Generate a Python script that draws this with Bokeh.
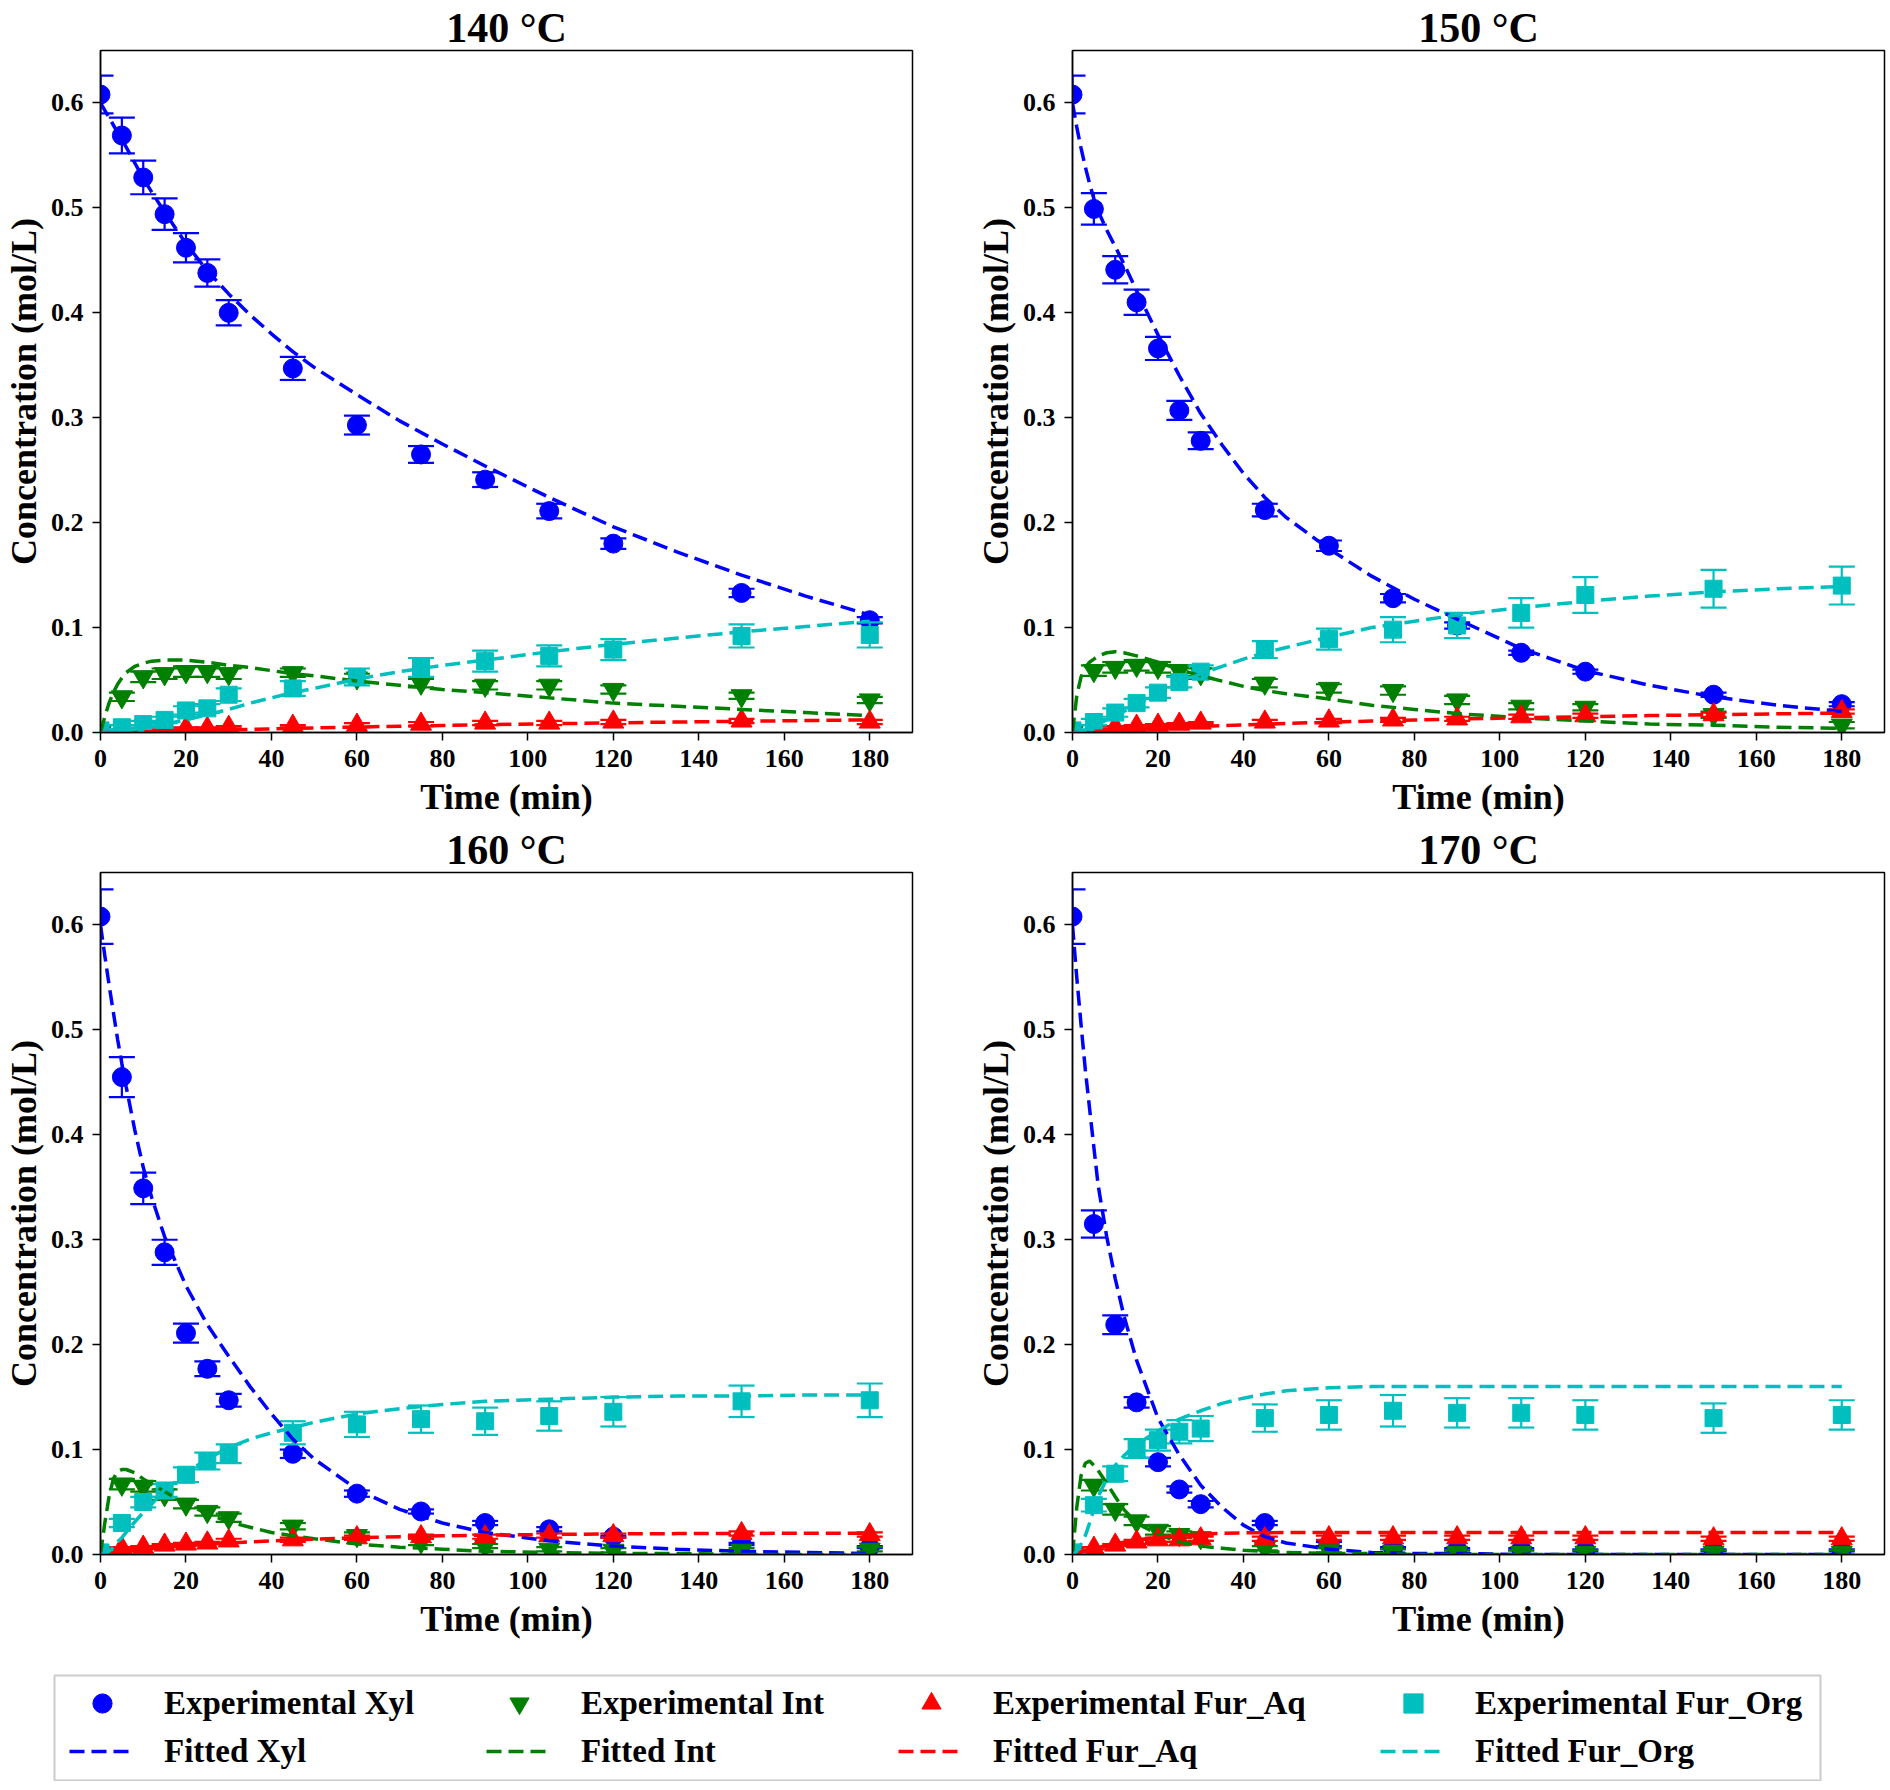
from bokeh.plotting import figure
from bokeh.models import Range1d, FixedTicker, PrintfTickFormatter, Legend, LegendItem
from bokeh.layouts import column, row
from bokeh.embed import file_html
from bokeh.resources import INLINE

FONT = "Liberation Serif"
C_XYL = "#0000FF"
C_INT = "#008000"
C_AQ = "#FF0000"
C_ORG = "#00BFBF"

# ---------------- data ----------------
titles = ["140 \u00b0C", "150 \u00b0C", "160 \u00b0C", "170 \u00b0C"]
x_ticks = [0, 20, 40, 60, 80, 100, 120, 140, 160, 180]
y_ticks = [0.0, 0.1, 0.2, 0.3, 0.4, 0.5, 0.6]

t_exp = [0, 5, 10, 15, 20, 25, 30, 45, 60, 75, 90, 105, 120, 150, 180]
t_fit = [0, 1, 2, 3, 4, 5, 6, 8, 10, 12, 15, 20, 25, 30, 35, 40, 45, 50, 60, 70, 80, 90, 105, 120, 135, 150, 165, 180]

# 140 C
xyl_140 = [0.608, 0.569, 0.529, 0.494, 0.462, 0.438, 0.400, 0.347, 0.293, 0.265, 0.241, 0.211, 0.180, 0.133, 0.107]
xyl_140_err = [0.018, 0.017, 0.016, 0.015, 0.014, 0.013, 0.012, 0.011, 0.009, 0.008, 0.007, 0.007, 0.005, 0.004, 0.003]
int_140 = [0.000, 0.034, 0.053, 0.056, 0.058, 0.058, 0.056, 0.057, 0.052, 0.047, 0.045, 0.045, 0.041, 0.035, 0.031]
int_140_err = [0.000, 0.004, 0.005, 0.005, 0.005, 0.005, 0.005, 0.004, 0.004, 0.004, 0.004, 0.004, 0.004, 0.003, 0.003]
aq_140 = [0.000, 0.000, 0.001, 0.002, 0.004, 0.004, 0.005, 0.006, 0.007, 0.008, 0.009, 0.009, 0.010, 0.011, 0.010]
aq_140_err = [0.000, 0.001, 0.001, 0.001, 0.001, 0.001, 0.001, 0.001, 0.002, 0.002, 0.002, 0.002, 0.002, 0.002, 0.002]
org_140 = [0.002, 0.005, 0.008, 0.012, 0.021, 0.023, 0.036, 0.042, 0.053, 0.062, 0.068, 0.073, 0.079, 0.092, 0.093]
org_140_err = [0.001, 0.002, 0.003, 0.003, 0.004, 0.004, 0.006, 0.007, 0.008, 0.009, 0.010, 0.010, 0.010, 0.011, 0.012]
fit_xyl_140 = [0.600, 0.593, 0.586, 0.579, 0.572, 0.565, 0.558, 0.543, 0.528, 0.515, 0.496, 0.466, 0.440, 0.418, 0.398, 0.380, 0.363, 0.348, 0.322, 0.297, 0.275, 0.254, 0.224, 0.196, 0.172, 0.150, 0.130, 0.112]
fit_int_140 = [0.000, 0.015, 0.028, 0.038, 0.046, 0.052, 0.057, 0.063, 0.066, 0.068, 0.069, 0.069, 0.067, 0.064, 0.062, 0.059, 0.056, 0.054, 0.049, 0.045, 0.041, 0.038, 0.033, 0.028, 0.025, 0.022, 0.019, 0.016]
fit_aq_140 = [0.0000, 0.0001, 0.0001, 0.0002, 0.0002, 0.0003, 0.0004, 0.0005, 0.0007, 0.0008, 0.0011, 0.0015, 0.0020, 0.0025, 0.0030, 0.0035, 0.0040, 0.0044, 0.0052, 0.0060, 0.0067, 0.0074, 0.0083, 0.0092, 0.0100, 0.0107, 0.0114, 0.0120]
fit_org_140 = [0.000, 0.000, 0.000, 0.001, 0.001, 0.001, 0.002, 0.003, 0.004, 0.006, 0.008, 0.012, 0.017, 0.022, 0.028, 0.033, 0.038, 0.042, 0.051, 0.058, 0.064, 0.069, 0.077, 0.084, 0.090, 0.096, 0.101, 0.106]

# 150 C
xyl_150 = [0.608, 0.499, 0.441, 0.410, 0.366, 0.307, 0.278, 0.212, 0.178, 0.128, 0.102, 0.076, 0.058, 0.036, 0.027]
xyl_150_err = [0.018, 0.015, 0.013, 0.012, 0.011, 0.009, 0.008, 0.006, 0.005, 0.004, 0.003, 0.002, 0.002, 0.002, 0.002]
int_150 = [0.000, 0.059, 0.062, 0.064, 0.062, 0.059, 0.056, 0.047, 0.042, 0.040, 0.031, 0.025, 0.024, 0.017, 0.007]
int_150_err = [0.000, 0.005, 0.005, 0.005, 0.005, 0.005, 0.005, 0.004, 0.004, 0.004, 0.004, 0.003, 0.003, 0.003, 0.003]
aq_150 = [0.000, 0.001, 0.005, 0.006, 0.007, 0.008, 0.009, 0.010, 0.011, 0.012, 0.013, 0.015, 0.016, 0.017, 0.020]
aq_150_err = [0.000, 0.001, 0.001, 0.001, 0.001, 0.001, 0.001, 0.002, 0.002, 0.002, 0.002, 0.002, 0.002, 0.002, 0.002]
org_150 = [0.002, 0.010, 0.019, 0.028, 0.038, 0.048, 0.058, 0.079, 0.089, 0.098, 0.102, 0.114, 0.131, 0.137, 0.140]
org_150_err = [0.001, 0.003, 0.004, 0.004, 0.005, 0.005, 0.006, 0.008, 0.010, 0.012, 0.012, 0.014, 0.017, 0.018, 0.018]
fit_xyl_150 = [0.600, 0.577, 0.557, 0.539, 0.523, 0.509, 0.497, 0.479, 0.463, 0.447, 0.421, 0.379, 0.340, 0.304, 0.274, 0.247, 0.224, 0.205, 0.175, 0.149, 0.127, 0.108, 0.080, 0.059, 0.045, 0.034, 0.026, 0.020]
fit_int_150 = [0.000, 0.035, 0.053, 0.062, 0.067, 0.070, 0.073, 0.076, 0.077, 0.076, 0.073, 0.067, 0.060, 0.054, 0.049, 0.044, 0.040, 0.037, 0.032, 0.026, 0.022, 0.018, 0.014, 0.011, 0.008, 0.007, 0.005, 0.004]
fit_aq_150 = [0.0000, 0.0001, 0.0003, 0.0005, 0.0007, 0.0009, 0.0011, 0.0015, 0.0019, 0.0023, 0.0029, 0.0039, 0.0048, 0.0057, 0.0065, 0.0072, 0.0079, 0.0086, 0.0098, 0.0109, 0.0119, 0.0128, 0.0140, 0.0151, 0.0161, 0.0170, 0.0178, 0.0185]
fit_org_150 = [0.000, 0.000, 0.001, 0.002, 0.004, 0.006, 0.008, 0.012, 0.016, 0.020, 0.027, 0.037, 0.047, 0.056, 0.063, 0.070, 0.076, 0.081, 0.091, 0.100, 0.106, 0.112, 0.119, 0.125, 0.130, 0.134, 0.137, 0.139]

# 160 C
xyl_160 = [0.608, 0.455, 0.349, 0.288, 0.211, 0.177, 0.147, 0.096, 0.058, 0.041, 0.030, 0.024, 0.017, 0.010, 0.007]
xyl_160_err = [0.026, 0.019, 0.015, 0.012, 0.009, 0.007, 0.006, 0.004, 0.003, 0.002, 0.002, 0.002, 0.001, 0.001, 0.001]
int_160 = [0.000, 0.067, 0.065, 0.057, 0.048, 0.041, 0.035, 0.027, 0.018, 0.012, 0.008, 0.005, 0.004, 0.004, 0.005]
int_160_err = [0.000, 0.005, 0.005, 0.005, 0.004, 0.004, 0.004, 0.003, 0.003, 0.003, 0.002, 0.002, 0.002, 0.002, 0.002]
aq_160 = [0.000, 0.006, 0.007, 0.009, 0.010, 0.011, 0.013, 0.014, 0.016, 0.017, 0.017, 0.018, 0.018, 0.020, 0.019]
aq_160_err = [0.000, 0.001, 0.001, 0.001, 0.001, 0.001, 0.002, 0.002, 0.002, 0.002, 0.002, 0.002, 0.002, 0.002, 0.002]
org_160 = [0.002, 0.030, 0.050, 0.061, 0.076, 0.089, 0.096, 0.116, 0.124, 0.129, 0.127, 0.132, 0.136, 0.146, 0.147]
org_160_err = [0.001, 0.004, 0.005, 0.006, 0.007, 0.008, 0.009, 0.011, 0.012, 0.013, 0.013, 0.014, 0.014, 0.015, 0.016]
fit_xyl_160 = [0.600, 0.571, 0.543, 0.517, 0.491, 0.468, 0.446, 0.405, 0.369, 0.340, 0.303, 0.256, 0.219, 0.189, 0.160, 0.134, 0.110, 0.091, 0.062, 0.043, 0.030, 0.021, 0.013, 0.008, 0.005, 0.003, 0.002, 0.001]
fit_int_160 = [0.000, 0.030, 0.055, 0.072, 0.079, 0.081, 0.081, 0.078, 0.072, 0.067, 0.060, 0.048, 0.039, 0.031, 0.026, 0.021, 0.018, 0.015, 0.010, 0.007, 0.005, 0.003, 0.002, 0.001, 0.001, 0.000, 0.000, 0.000]
fit_aq_160 = [0.0000, 0.0006, 0.0012, 0.0017, 0.0022, 0.0027, 0.0031, 0.0040, 0.0048, 0.0056, 0.0067, 0.0083, 0.0097, 0.0109, 0.0120, 0.0130, 0.0139, 0.0147, 0.0160, 0.0170, 0.0178, 0.0184, 0.0191, 0.0196, 0.0199, 0.0201, 0.0202, 0.0203]
fit_org_160 = [0.000, 0.001, 0.003, 0.007, 0.012, 0.016, 0.021, 0.031, 0.040, 0.048, 0.062, 0.078, 0.091, 0.102, 0.110, 0.116, 0.121, 0.126, 0.134, 0.139, 0.143, 0.146, 0.148, 0.150, 0.151, 0.151, 0.152, 0.152]

# 170 C
xyl_170 = [0.608, 0.315, 0.219, 0.145, 0.088, 0.062, 0.048, 0.030, 0.010, 0.006, 0.005, 0.005, 0.004, 0.004, 0.004]
xyl_170_err = [0.026, 0.013, 0.009, 0.005, 0.004, 0.003, 0.003, 0.002, 0.002, 0.001, 0.001, 0.001, 0.001, 0.001, 0.001]
int_170 = [0.000, 0.066, 0.043, 0.032, 0.023, 0.019, 0.016, 0.006, 0.004, 0.003, 0.002, 0.002, 0.002, 0.002, 0.002]
int_170_err = [0.000, 0.005, 0.005, 0.004, 0.004, 0.003, 0.003, 0.002, 0.002, 0.002, 0.002, 0.002, 0.002, 0.002, 0.002]
aq_170 = [0.000, 0.006, 0.009, 0.012, 0.014, 0.014, 0.015, 0.015, 0.016, 0.016, 0.016, 0.016, 0.016, 0.015, 0.015]
aq_170_err = [0.000, 0.001, 0.001, 0.002, 0.002, 0.002, 0.002, 0.002, 0.002, 0.002, 0.002, 0.002, 0.002, 0.002, 0.002]
org_170 = [0.002, 0.047, 0.077, 0.101, 0.109, 0.117, 0.120, 0.130, 0.133, 0.137, 0.135, 0.135, 0.133, 0.130, 0.133]
org_170_err = [0.001, 0.006, 0.007, 0.009, 0.010, 0.011, 0.012, 0.013, 0.014, 0.015, 0.014, 0.014, 0.014, 0.014, 0.014]
fit_xyl_170 = [0.600, 0.550, 0.505, 0.462, 0.425, 0.388, 0.352, 0.303, 0.263, 0.228, 0.185, 0.130, 0.095, 0.066, 0.045, 0.028, 0.017, 0.011, 0.005, 0.002, 0.001, 0.001, 0.000, 0.000, 0.000, 0.000, 0.000, 0.000]
fit_int_170 = [0.000, 0.045, 0.075, 0.087, 0.089, 0.085, 0.080, 0.068, 0.055, 0.043, 0.030, 0.019, 0.012, 0.008, 0.006, 0.004, 0.003, 0.002, 0.001, 0.001, 0.000, 0.000, 0.000, 0.000, 0.000, 0.000, 0.000, 0.000]
fit_aq_170 = [0.0000, 0.0012, 0.0024, 0.0035, 0.0046, 0.0056, 0.0066, 0.0085, 0.0102, 0.0118, 0.0138, 0.0164, 0.0183, 0.0195, 0.0202, 0.0206, 0.0208, 0.0209, 0.0210, 0.0210, 0.0210, 0.0210, 0.0210, 0.0210, 0.0210, 0.0210, 0.0210, 0.0210]
fit_org_170 = [0.000, 0.003, 0.010, 0.018, 0.030, 0.043, 0.055, 0.072, 0.085, 0.094, 0.105, 0.118, 0.129, 0.137, 0.144, 0.149, 0.153, 0.156, 0.159, 0.160, 0.160, 0.160, 0.160, 0.160, 0.160, 0.160, 0.160, 0.160]

species = ["Xyl", "Int", "Fur_Aq", "Fur_Org"]
colors = [C_XYL, C_INT, C_AQ, C_ORG]
markers = ["circle", "inverted_triangle", "triangle", "square"]
msizes = [19, 21, 21, 17]

panels = [
    ([xyl_140, int_140, aq_140, org_140], [xyl_140_err, int_140_err, aq_140_err, org_140_err],
     [fit_xyl_140, fit_int_140, fit_aq_140, fit_org_140]),
    ([xyl_150, int_150, aq_150, org_150], [xyl_150_err, int_150_err, aq_150_err, org_150_err],
     [fit_xyl_150, fit_int_150, fit_aq_150, fit_org_150]),
    ([xyl_160, int_160, aq_160, org_160], [xyl_160_err, int_160_err, aq_160_err, org_160_err],
     [fit_xyl_160, fit_int_160, fit_aq_160, fit_org_160]),
    ([xyl_170, int_170, aq_170, org_170], [xyl_170_err, int_170_err, aq_170_err, org_170_err],
     [fit_xyl_170, fit_int_170, fit_aq_170, fit_org_170]),
]

DASH = "15 7"
LW = 3.5
FRAME_W = 812
FRAME_H = 682


def style_axis(ax):
    ax.axis_line_color = "black"
    ax.axis_line_width = 1.5
    ax.major_tick_line_color = "black"
    ax.major_tick_line_width = 1.5
    ax.major_tick_in = 0
    ax.major_tick_out = 8
    ax.minor_tick_line_color = None
    ax.major_label_text_font = FONT
    ax.major_label_text_font_size = "26px"
    ax.major_label_text_font_style = "bold"
    ax.major_label_text_color = "black"
    ax.axis_label_text_font = FONT
    ax.axis_label_text_font_size = "36px"
    ax.axis_label_text_font_style = "bold"
    ax.axis_label_text_color = "black"


def make_panel(idx, borders):
    exp, errs, fits = panels[idx]
    bl, br, bt, bb = borders
    p = figure(frame_width=FRAME_W, frame_height=FRAME_H,
               x_range=Range1d(0, 190), y_range=Range1d(0, 0.65),
               toolbar_location=None, output_backend="svg",
               min_border_left=bl, min_border_right=br,
               min_border_top=bt, min_border_bottom=bb,
               title=titles[idx])
    p.title.align = "center"
    p.title.text_font = FONT
    p.title.text_font_size = "42px"
    p.title.text_font_style = "bold"
    p.title.text_color = "black"
    p.title.standoff = 0
    p.xgrid.visible = False
    p.ygrid.visible = False
    p.outline_line_color = "black"
    p.outline_line_width = 1.5
    p.background_fill_color = "white"
    p.border_fill_color = "white"
    p.xaxis.ticker = FixedTicker(ticks=x_ticks)
    p.yaxis.ticker = FixedTicker(ticks=y_ticks)
    p.yaxis.formatter = PrintfTickFormatter(format="%.1f")
    p.xaxis.axis_label = "Time (min)"
    p.yaxis.axis_label = "Concentration (mol/L)"
    style_axis(p.xaxis[0])
    style_axis(p.yaxis[0])
    p.xaxis.major_label_standoff = 9
    p.xaxis.axis_label_standoff = 7
    p.yaxis.major_label_standoff = 9
    p.yaxis.axis_label_standoff = 4

    for k in range(4):
        y = exp[k]
        e = errs[k]
        c = colors[k]
        lo = [a - b for a, b in zip(y, e)]
        hi = [a + b for a, b in zip(y, e)]
        p.segment(x0=t_exp, y0=lo, x1=t_exp, y1=hi, line_color=c, line_width=2.2)
        p.scatter(x=t_exp + t_exp, y=lo + hi, marker="dash", size=26, line_color=c, line_width=2.2)
        p.scatter(x=t_exp, y=y, marker=markers[k], size=msizes[k], fill_color=c, line_color=c)
    for k in range(4):
        p.line(x=t_fit, y=fits[k], line_color=colors[k], line_width=LW, line_dash=DASH)
    return p


pA = make_panel(0, (100, 60, 50, 92))
pB = make_panel(1, (100, 3, 50, 92))
pC = make_panel(2, (100, 60, 44, 92))
pD = make_panel(3, (100, 3, 44, 92))

# ---------------- legend strip ----------------
lg = figure(frame_width=1766, frame_height=106, x_range=Range1d(0, 1), y_range=Range1d(0, 1),
            x_axis_type=None, y_axis_type=None, toolbar_location=None, output_backend="svg",
            min_border_left=54, min_border_right=67, min_border_top=29, min_border_bottom=0)
lg.outline_line_color = "#cccccc"
lg.outline_line_width = 2
lg.xgrid.visible = False
lg.ygrid.visible = False

nan = [float("nan")]
col_x = [15, 432, 844, 1326]
for k in range(4):
    r_exp = lg.scatter(x=nan, y=nan, marker=markers[k], size=msizes[k],
                       fill_color=colors[k], line_color=colors[k])
    r_fit = lg.line(x=nan, y=nan, line_color=colors[k], line_width=LW, line_dash=DASH)
    leg = Legend(items=[LegendItem(label="Experimental " + species[k], renderers=[r_exp]),
                        LegendItem(label="Fitted " + species[k], renderers=[r_fit])],
                 location=(col_x[k], 6), orientation="vertical",
                 glyph_width=66, glyph_height=48, label_height=48, label_standoff=29,
                 padding=0, margin=0, spacing=0,
                 border_line_color=None, background_fill_alpha=0,
                 label_text_font=FONT, label_text_font_size="33px",
                 label_text_font_style="bold", label_text_color="black")
    lg.add_layout(leg, "center")

layout = column(row(pA, pB), row(pC, pD), lg)
open("out.html", "w").write(file_html(layout, INLINE))
